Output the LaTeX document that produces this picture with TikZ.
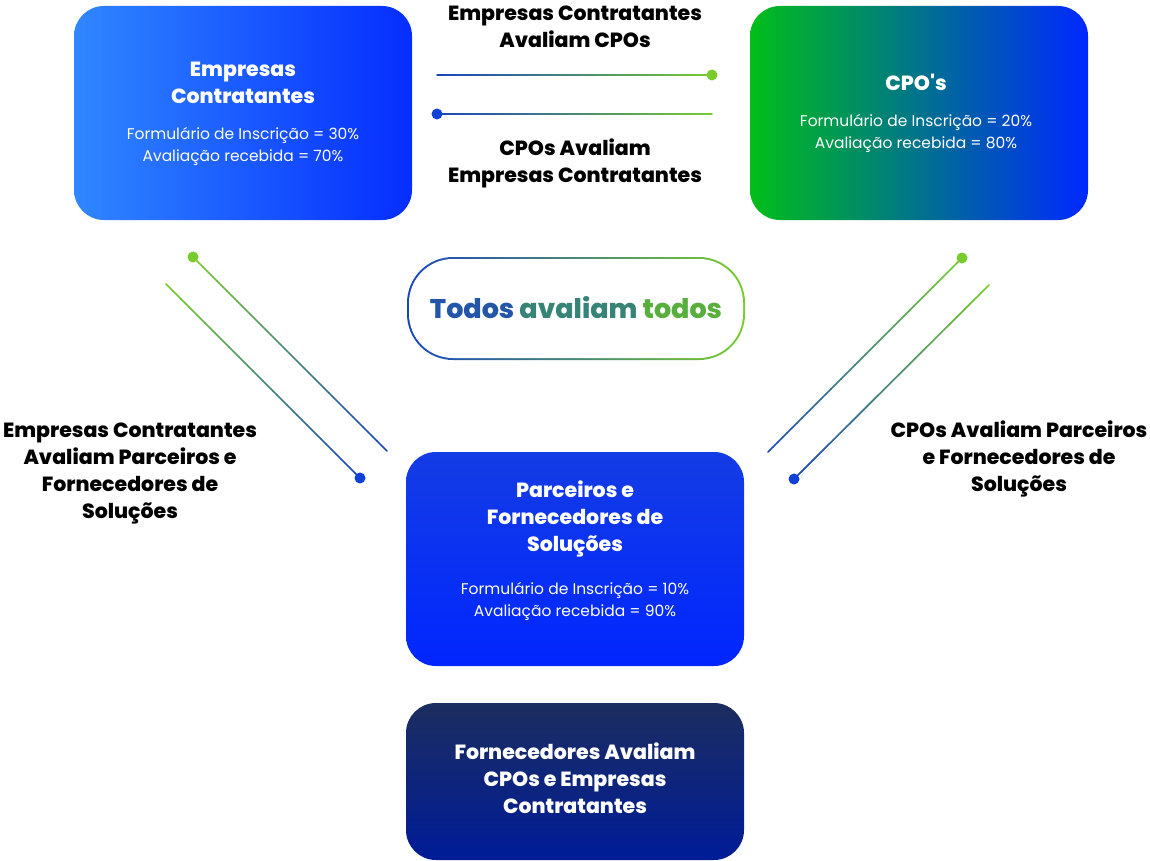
\documentclass[tikz,border=0pt]{standalone}
\usepackage{fontspec}
\setmainfont{Poppins}[BoldFont={Poppins ExtraBold}]
\usepackage{tikz}
\usetikzlibrary{calc,positioning}

\definecolor{lineblue}{RGB}{25,70,190}
\definecolor{linegreen}{RGB}{120,205,45}
\definecolor{dotblue}{RGB}{15,65,215}
\definecolor{empL}{RGB}{48,135,255}
\definecolor{empR}{RGB}{5,45,255}
\definecolor{cpoL}{RGB}{0,190,25}
\definecolor{cpoR}{RGB}{0,40,255}
\definecolor{parT}{RGB}{20,60,228}
\definecolor{parB}{RGB}{0,38,255}
\definecolor{forT}{RGB}{28,45,95}
\definecolor{forB}{RGB}{0,28,152}
\definecolor{todA}{RGB}{35,85,168}
\definecolor{todB}{RGB}{55,132,118}
\definecolor{todC}{RGB}{88,175,62}

% line with a colour running from #3 to #4
\newcommand{\gradline}[4]{%
  \foreach \k in {0,...,39}{
    \pgfmathtruncatemacro{\mixval}{100-2.5*\k}
    \pgfmathsetmacro{\fa}{\k/40}
    \pgfmathsetmacro{\fb}{(\k+1)/40}
    \draw[line width=1.7pt, line cap=round, #3!\mixval!#4]
      ($(#1)!\fa!(#2)$) -- ($(#1)!\fb!(#2)$);
  }}

\tikzset{
  box/.style={rounded corners=30pt, minimum width=338pt, minimum height=214pt, inner sep=0pt},
  head/.style={text=white, align=center, font=\fontsize{20.5}{27}\selectfont\bfseries},
  info/.style={text=white, align=center, font=\fontsize{15.5}{22}\selectfont},
  lbl/.style={align=center, font=\fontsize{20.5}{27}\selectfont\bfseries}
}

\begin{document}
\begin{tikzpicture}[x=1pt,y=-1pt]
      \useasboundingbox (0,0) rectangle (1150,861);
      % boxes
      \node[box, left color=empL, right color=empR] (emp) at (243,113) {};
      \node[box, left color=cpoL, right color=cpoR] (cpo) at (919,113) {};
      \node[box, top color=parT, bottom color=parB] (par) at (575,559) {};
      \node[box, minimum height=157pt, top color=forT, bottom color=forB] (forn) at (575,781.5) {};
      % box texts
      \node[head] (empHead) at (243,82.5) {Empresas\\Contratantes};
      \node[info] (empInfo) at (243,146) {Formulário de Inscrição = 30\%\\Avaliação recebida = 70\%};
      \node[head] (cpoHead) at (916,82) {CPO\textquotesingle s};
      \node[info] (cpoInfo) at (916,133) {Formulário de Inscrição = 20\%\\Avaliação recebida = 80\%};
      \node[head] (parHead) at (575,519) {Parceiros e\\Fornecedores de\\Soluções};
      \node[info] (parInfo) at (575,601) {Formulário de Inscrição = 10\%\\Avaliação recebida = 90\%};
      \node[head] (fornHead) at (575,778) {Fornecedores Avaliam\\CPOs e Empresas\\Contratantes};
      % todos avaliam todos
      \shade[rounded corners=46pt, left color=lineblue, right color=linegreen] (407,257) rectangle (745,360);
      \fill[white, rounded corners=44pt] (409,259) rectangle (743,358);
      \node[font=\fontsize{27}{30}\selectfont\bfseries] (todos) at (576,308)
        {\textcolor{todA}{Todos} \textcolor{todB}{avaliam} \textcolor{todC}{todos}};
      % labels
      \node[lbl] (t1) at (575,27) {Empresas Contratantes\\Avaliam CPOs};
      \node[lbl] (t2) at (575,163) {CPOs Avaliam\\Empresas Contratantes};
      \node[lbl] (t3) at (130,474) {Empresas Contratantes\\Avaliam Parceiros e\\Fornecedores de\\Soluções};
      \node[lbl] (t4) at (1019,459) {CPOs Avaliam Parceiros\\e Fornecedores de\\Soluções};
      % line ends
      \coordinate (h1a) at (437,75);  \coordinate (h1b) at (712,75);
      \coordinate (h2a) at (437,114); \coordinate (h2b) at (712,114);
      \coordinate (l1a) at (193,257); \coordinate (l1b) at (387,451);
      \coordinate (l2a) at (166,284); \coordinate (l2b) at (360,478);
      \coordinate (r1a) at (962,258); \coordinate (r1b) at (768,452);
      \coordinate (r2a) at (989,285); \coordinate (r2b) at (794,479);
      % lines
      \gradline{h1a}{h1b}{lineblue}{linegreen}
      \gradline{h2a}{h2b}{lineblue}{linegreen}
      \gradline{l1a}{l1b}{linegreen}{lineblue}
      \gradline{l2a}{l2b}{linegreen}{lineblue}
      \gradline{r1a}{r1b}{linegreen}{lineblue}
      \gradline{r2a}{r2b}{linegreen}{lineblue}
      % dots
      \fill[linegreen] (h1b) circle (5.5pt);
      \fill[dotblue] (h2a) circle (5.5pt);
      \fill[linegreen] (l1a) circle (5.5pt);
      \fill[dotblue] (l2b) circle (5.5pt);
      \fill[linegreen] (r1a) circle (5.5pt);
      \fill[dotblue] (r2b) circle (5.5pt);
    \end{tikzpicture}
\end{document}
